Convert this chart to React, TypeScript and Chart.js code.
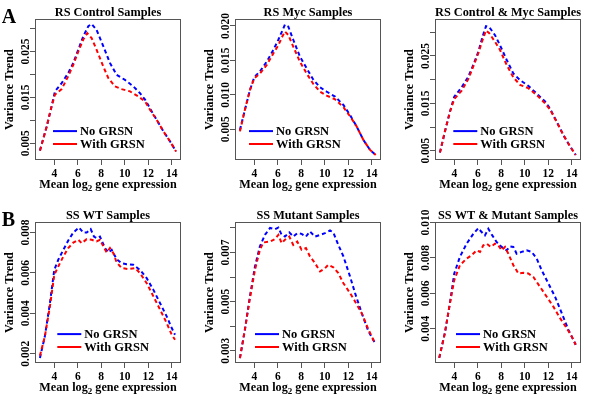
import React, { useEffect, useRef } from "react";
import { Chart, registerables } from "chart.js";
Chart.register(...registerables);

const FONT = "'Liberation Serif', 'Times New Roman', serif";
const BLUE = "#0000FF";
const RED = "#FF0000";
const BOX = "#555555";

const seriesNames = ["No GRSN", "With GRSN"];
const xTicks = [4, 6, 8, 10, 12, 14];
const xMin = 2.36;
const xMax = 14.79;

// ---------- A1: RS Control ----------
const rsCtrlNoX = [2.78, 3.35, 3.77, 4.06, 4.63, 5.19, 5.62, 6.05, 6.47, 6.9, 7.18, 7.6, 8.18, 8.74, 9.31, 10.02, 10.73, 11.3, 11.73, 12.15, 12.72, 13.29, 13.86, 14.37];
const rsCtrlNoY = [0.0034, 0.0086, 0.013, 0.0163, 0.0181, 0.0203, 0.0225, 0.0254, 0.0283, 0.0305, 0.031, 0.0297, 0.0261, 0.0225, 0.0199, 0.0188, 0.0174, 0.0159, 0.0145, 0.0126, 0.0101, 0.0076, 0.0054, 0.0032];
const rsCtrlWithX = [2.78, 3.35, 3.77, 4.06, 4.63, 5.19, 5.62, 6.05, 6.47, 6.81, 7.18, 7.6, 8.18, 8.6, 9.17, 9.74, 10.45, 11.16, 11.73, 12.15, 12.72, 13.29, 13.86, 14.37];
const rsCtrlWithY = [0.0034, 0.0086, 0.013, 0.0156, 0.0168, 0.0196, 0.0221, 0.025, 0.0276, 0.029, 0.0279, 0.0254, 0.0217, 0.0192, 0.0174, 0.0168, 0.0163, 0.0152, 0.0141, 0.0123, 0.0101, 0.0076, 0.0054, 0.0032];
const rsCtrlTicks = [0.005, 0.01, 0.015, 0.02, 0.025, 0.03];
const rsCtrlLabels = ["0.005", "", "0.015", "", "0.025", ""];

// ---------- A2: RS Myc ----------
const rsMycNoX = [2.78, 3.2, 3.63, 4.0, 4.48, 5.05, 5.62, 6.05, 6.41, 6.61, 6.9, 7.32, 7.89, 8.46, 9.03, 9.6, 10.16, 10.88, 11.59, 12.15, 12.72, 13.29, 13.86, 14.34];
const rsMycNoY = [0.0049, 0.0078, 0.0107, 0.01255, 0.0134, 0.0148, 0.0165, 0.018, 0.0194, 0.0202, 0.0199, 0.018, 0.01555, 0.01385, 0.0122, 0.0111, 0.01047, 0.00974, 0.00853, 0.00708, 0.00539, 0.00345, 0.002, 0.00127];
const rsMycWithX = [2.78, 3.2, 3.63, 4.0, 4.48, 5.05, 5.62, 6.05, 6.41, 6.61, 6.9, 7.32, 7.89, 8.46, 9.03, 9.6, 10.16, 10.88, 11.59, 12.15, 12.72, 13.29, 13.86, 14.34];
const rsMycWithY = [0.0047, 0.0078, 0.0107, 0.0124, 0.0131, 0.0143, 0.016, 0.0172, 0.01855, 0.0192, 0.0187, 0.017, 0.0148, 0.0131, 0.01158, 0.01047, 0.0099, 0.00935, 0.0082, 0.0069, 0.0054, 0.00345, 0.002, 0.00127];
const rsMycTicks = [0.005, 0.01, 0.015, 0.02];
const rsMycLabels = ["0.005", "0.010", "0.015", "0.020"];

// ---------- A3: RS Control & Myc ----------
const rsBothNoX = [2.78, 3.2, 3.63, 4.0, 4.63, 5.19, 5.62, 6.05, 6.41, 6.7, 6.98, 7.47, 7.89, 8.46, 9.03, 9.6, 10.3, 11.0, 11.73, 12.15, 12.72, 13.29, 13.86, 14.34];
const rsBothNoY = [0.0046, 0.009, 0.0132, 0.0164, 0.0184, 0.0206, 0.0231, 0.0259, 0.0291, 0.0313, 0.0311, 0.0294, 0.0273, 0.0242, 0.0213, 0.0199, 0.0187, 0.0171, 0.0154, 0.0139, 0.0111, 0.0083, 0.0059, 0.0041];
const rsBothWithX = [2.78, 3.2, 3.63, 4.0, 4.63, 5.19, 5.62, 6.05, 6.41, 6.7, 6.98, 7.47, 7.89, 8.46, 9.03, 9.6, 10.3, 11.0, 11.73, 12.15, 12.72, 13.29, 13.86, 14.34];
const rsBothWithY = [0.0046, 0.009, 0.0132, 0.0159, 0.0177, 0.0201, 0.0228, 0.0256, 0.0284, 0.0304, 0.0298, 0.028, 0.0263, 0.0231, 0.0205, 0.0189, 0.0182, 0.0168, 0.015, 0.0137, 0.0111, 0.0083, 0.0059, 0.0041];
const rsBothTicks = [0.005, 0.01, 0.015, 0.02, 0.025, 0.03];
const rsBothLabels = ["0.005", "", "0.015", "", "0.025", ""];

// ---------- B1: SS WT ----------
const ssWtNoX = [2.78, 3.2, 3.63, 4.0, 4.34, 4.77, 5.19, 5.62, 6.1, 6.47, 6.76, 7.1, 7.38, 7.6, 7.89, 8.32, 8.6, 8.89, 9.31, 9.74, 10.16, 10.73, 11.3, 11.87, 12.44, 13.01, 13.57, 14.0, 14.28];
const ssWtNoY = [0.00179, 0.00286, 0.0045, 0.00615, 0.00665, 0.00714, 0.0076, 0.008, 0.00825, 0.008, 0.008, 0.00817, 0.0078, 0.00772, 0.0078, 0.00723, 0.00701, 0.00714, 0.00668, 0.00648, 0.00643, 0.0064, 0.00615, 0.00574, 0.00516, 0.0045, 0.00385, 0.00327, 0.00294];
const ssWtWithX = [2.78, 3.2, 3.63, 4.0, 4.34, 4.77, 5.19, 5.62, 6.05, 6.33, 6.76, 7.18, 7.6, 7.89, 8.18, 8.46, 8.74, 9.03, 9.31, 9.74, 10.3, 10.88, 11.3, 11.87, 12.44, 13.01, 13.57, 14.0, 14.28];
const ssWtWithY = [0.0019, 0.00286, 0.00434, 0.0059, 0.00632, 0.00681, 0.00723, 0.0075, 0.00764, 0.00747, 0.00767, 0.00764, 0.00756, 0.00764, 0.00731, 0.00701, 0.00723, 0.00698, 0.00652, 0.00624, 0.00619, 0.00624, 0.00599, 0.00549, 0.00484, 0.00418, 0.00352, 0.00294, 0.00269];
const ssWtTicks = [0.002, 0.004, 0.006, 0.008];
const ssWtLabels = ["0.002", "0.004", "0.006", "0.008"];

// ---------- B2: SS Mutant ----------
const ssMutNoX = [2.78, 3.2, 3.63, 4.06, 4.48, 4.91, 5.34, 5.76, 6.05, 6.33, 6.61, 6.98, 7.32, 7.66, 8.03, 8.4, 8.74, 9.17, 9.6, 10.02, 10.45, 10.73, 11.16, 11.59, 12.15, 12.58, 13.15, 13.72, 14.28];
const ssMutNoY = [0.0027, 0.00385, 0.00521, 0.00643, 0.00725, 0.00772, 0.008, 0.00795, 0.00802, 0.00772, 0.00765, 0.00782, 0.00765, 0.00779, 0.00776, 0.00765, 0.00786, 0.00765, 0.00772, 0.00779, 0.0079, 0.00782, 0.00731, 0.00684, 0.00603, 0.00535, 0.00453, 0.00379, 0.00331];
const ssMutWithX = [2.78, 3.2, 3.63, 4.06, 4.48, 4.77, 5.34, 5.76, 6.05, 6.33, 6.61, 6.98, 7.32, 7.66, 8.03, 8.4, 8.74, 9.17, 9.6, 10.02, 10.3, 10.73, 11.16, 11.59, 12.15, 12.58, 13.15, 13.72, 14.28];
const ssMutWithY = [0.0027, 0.00385, 0.00514, 0.0063, 0.00711, 0.00741, 0.00745, 0.00755, 0.00772, 0.00738, 0.00752, 0.00765, 0.00731, 0.00745, 0.00711, 0.00718, 0.00684, 0.00657, 0.00623, 0.00636, 0.0065, 0.0064, 0.00616, 0.00575, 0.00535, 0.00501, 0.00453, 0.00386, 0.00331];
const ssMutTicks = [0.003, 0.004, 0.005, 0.006, 0.007, 0.008];
const ssMutLabels = ["0.003", "", "0.005", "", "0.007", ""];

// ---------- B3: SS WT & Mutant ----------
const ssBothNoX = [2.72, 3.2, 3.63, 4.0, 4.48, 5.05, 5.62, 6.05, 6.33, 6.61, 6.9, 7.18, 7.6, 8.03, 8.46, 8.74, 9.03, 9.31, 9.74, 10.16, 10.59, 11.02, 11.44, 12.01, 12.58, 13.15, 13.72, 14.34];
const ssBothNoY = [0.00236, 0.00376, 0.00544, 0.00712, 0.00806, 0.0088, 0.00936, 0.00968, 0.00946, 0.00927, 0.00964, 0.00933, 0.0089, 0.00862, 0.00843, 0.00865, 0.00862, 0.00824, 0.00834, 0.00843, 0.00834, 0.00796, 0.00731, 0.00656, 0.00581, 0.00488, 0.00394, 0.0031];
const ssBothWithX = [2.72, 3.2, 3.63, 4.0, 4.48, 5.05, 5.48, 5.9, 6.19, 6.47, 6.76, 7.1, 7.47, 7.75, 8.03, 8.32, 8.6, 9.03, 9.46, 9.89, 10.3, 10.73, 11.3, 11.87, 12.44, 13.01, 13.57, 14.0, 14.34];
const ssBothWithY = [0.00236, 0.00376, 0.00544, 0.00675, 0.00759, 0.00796, 0.00815, 0.00843, 0.00834, 0.00871, 0.0088, 0.00862, 0.0088, 0.00871, 0.00843, 0.00862, 0.00824, 0.00759, 0.00712, 0.00716, 0.00712, 0.00693, 0.00637, 0.00581, 0.00525, 0.0046, 0.00404, 0.00357, 0.0031];
const ssBothTicks = [0.004, 0.006, 0.008, 0.01];
const ssBothLabels = ["0.004", "0.006", "0.008", "0.010"];

type Panel = {
  title: string;
  letter: string;
  yMin: number;
  yMax: number;
  yTicks: number[];
  yLabels: string[];
  noX: number[];
  noY: number[];
  withX: number[];
  withY: number[];
  legendOffset: number;
  col: number;
  row: number;
};

const panels: Panel[] = [
  { title: "RS Control Samples", letter: "A", yMin: 0.00136, yMax: 0.032, yTicks: rsCtrlTicks, yLabels: rsCtrlLabels, noX: rsCtrlNoX, noY: rsCtrlNoY, withX: rsCtrlWithX, withY: rsCtrlWithY, legendOffset: 18, col: 0, row: 0 },
  { title: "RS Myc Samples", letter: "", yMin: 0.00054, yMax: 0.02097, yTicks: rsMycTicks, yLabels: rsMycLabels, noX: rsMycNoX, noY: rsMycNoY, withX: rsMycWithX, withY: rsMycWithY, legendOffset: 14, col: 1, row: 0 },
  { title: "RS Control & Myc Samples", letter: "", yMin: 0.00303, yMax: 0.03275, yTicks: rsBothTicks, yLabels: rsBothLabels, noX: rsBothNoX, noY: rsBothNoY, withX: rsBothWithX, withY: rsBothWithY, legendOffset: 18.3, col: 2, row: 0 },
  { title: "SS WT Samples", letter: "B", yMin: 0.00154, yMax: 0.008505, yTicks: ssWtTicks, yLabels: ssWtLabels, noX: ssWtNoX, noY: ssWtNoY, withX: ssWtWithX, withY: ssWtWithY, legendOffset: 22.3, col: 0, row: 1 },
  { title: "SS Mutant Samples", letter: "", yMin: 0.0025, yMax: 0.008232, yTicks: ssMutTicks, yLabels: ssMutLabels, noX: ssMutNoX, noY: ssMutNoY, withX: ssMutWithX, withY: ssMutWithY, legendOffset: 20, col: 1, row: 1 },
  { title: "SS WT & Mutant Samples", letter: "", yMin: 0.00207, yMax: 0.01001, yTicks: ssBothTicks, yLabels: ssBothLabels, noX: ssBothNoX, noY: ssBothNoY, withX: ssBothWithX, withY: ssBothWithY, legendOffset: 21, col: 2, row: 1 },
];

const zip = (xs: number[], ys: number[]) => xs.map((x, i) => ({ x, y: ys[i] }));
const font = (size: number) => `bold ${size}px ${FONT}`;

function PanelChart({ p }: { p: Panel }) {
  const ref = useRef<HTMLCanvasElement>(null);
  useEffect(() => {
    const canvas = ref.current;
    if (!canvas) return;
    const decor = {
      id: "decor",
      afterDraw(chart: any) {
        const ctx = chart.ctx as CanvasRenderingContext2D;
        const a = chart.chartArea;
        const ys = chart.scales.y;
        ctx.save();
        // plot box
        ctx.strokeStyle = BOX;
        ctx.lineWidth = 1;
        ctx.setLineDash([]);
        ctx.strokeRect(Math.round(a.left) + 0.5, Math.round(a.top) + 0.5, Math.round(a.right - a.left) - 1, Math.round(a.bottom - a.top) - 1);
        ctx.fillStyle = "#000";
        // title
        ctx.font = font(12.3);
        ctx.textAlign = "center";
        ctx.textBaseline = "alphabetic";
        ctx.fillText(p.title, (a.left + a.right) / 2, a.top - 3.6);
        // panel letter
        if (p.letter) {
          ctx.font = font(20);
          ctx.textAlign = "left";
          ctx.fillText(p.letter, 1.7, a.top + 3.4);
        }
        // y tick labels (rotated, like R)
        ctx.font = font(11.5);
        p.yTicks.forEach((v, i) => {
          const lab = p.yLabels[i];
          if (!lab) return;
          const py = ys.getPixelForValue(v);
          ctx.save();
          ctx.translate(a.left - 6.5, py);
          ctx.rotate(-Math.PI / 2);
          ctx.textAlign = "center";
          ctx.textBaseline = "alphabetic";
          ctx.fillText(lab, 0, 0);
          ctx.restore();
        });
        // y title
        ctx.save();
        ctx.font = font(12.2);
        ctx.translate(a.left - 22.3, (a.top + a.bottom) / 2);
        ctx.rotate(-Math.PI / 2);
        ctx.textAlign = "center";
        ctx.fillText("Variance Trend", 0, 0);
        ctx.restore();
        // x title with subscript
        const t1 = "Mean log";
        const t2 = "2";
        const t3 = " gene expression";
        ctx.font = font(12.2);
        const w1 = ctx.measureText(t1).width;
        const w3 = ctx.measureText(t3).width;
        ctx.font = font(9);
        const w2 = ctx.measureText(t2).width;
        const total = w1 + w2 + w3;
        let tx = (a.left + a.right) / 2 - total / 2;
        const tb = a.bottom + 28.3;
        ctx.textAlign = "left";
        ctx.font = font(12.2);
        ctx.fillText(t1, tx, tb);
        tx += w1;
        ctx.font = font(9);
        ctx.fillText(t2, tx, tb + 3);
        tx += w2;
        ctx.font = font(12.2);
        ctx.fillText(t3, tx, tb);
        // legend
        const lx = a.left + p.legendOffset;
        const rowsY = [a.top + 111.8, a.top + 124.7];
        const cols = [BLUE, RED];
        ctx.font = font(12.5);
        seriesNames.forEach((name, i) => {
          ctx.strokeStyle = cols[i];
          ctx.lineWidth = 2;
          ctx.beginPath();
          ctx.moveTo(lx, rowsY[i]);
          ctx.lineTo(lx + 24, rowsY[i]);
          ctx.stroke();
          ctx.fillStyle = "#000";
          ctx.fillText(name, lx + 27, rowsY[i] + 4.3);
        });
        ctx.restore();
      },
    };
    const chart = new Chart(canvas, {
      type: "line",
      data: {
        datasets: [
          { label: seriesNames[0], data: zip(p.noX, p.noY), borderColor: BLUE, borderWidth: 2, borderDash: [4, 3], pointRadius: 0, tension: 0, fill: false, order: 1 },
          { label: seriesNames[1], data: zip(p.withX, p.withY), borderColor: RED, borderWidth: 2, borderDash: [4, 3], pointRadius: 0, tension: 0, fill: false, order: 0 },
        ],
      },
      options: {
        animation: false,
        responsive: false,
        devicePixelRatio: 1,
        layout: { padding: { top: 19.3, right: 19, left: 0, bottom: 0 } },
        plugins: { legend: { display: false }, title: { display: false }, tooltip: { enabled: false } },
        events: [],
        scales: {
          x: {
            type: "linear",
            min: xMin,
            max: xMax,
            afterBuildTicks: (s: any) => { s.ticks = xTicks.map((v) => ({ value: v })); },
            afterFit: (s: any) => { s.height = 43; },
            grid: { display: true, drawOnChartArea: false, drawTicks: true, tickLength: 5, color: BOX },
            border: { display: false },
            ticks: { color: "#000", font: { family: FONT, weight: "bold", size: 11.5 }, padding: 2, maxRotation: 0, autoSkip: false },
          },
          y: {
            type: "linear",
            min: p.yMin,
            max: p.yMax,
            afterBuildTicks: (s: any) => { s.ticks = p.yTicks.map((v) => ({ value: v })); },
            afterFit: (s: any) => { s.width = 35; },
            grid: { display: true, drawOnChartArea: false, drawTicks: true, tickLength: 5, color: BOX },
            border: { display: false },
            ticks: { display: false },
          },
        },
      } as any,
      plugins: [decor],
    });
    return () => chart.destroy();
  }, [p]);
  return <canvas ref={ref} width={200} height={203} style={{ display: "block", width: 200, height: 203 }} />;
}

export default function App() {
  return (
    <div style={{ position: "fixed", left: 0, top: 0, width: 600, height: 406, background: "#fff", overflow: "hidden" }}>
      {panels.map((p, i) => (
        <div key={i} style={{ position: "absolute", left: p.col * 200, top: p.row * 203, width: 200, height: 203 }}>
          <PanelChart p={p} />
        </div>
      ))}
    </div>
  );
}
